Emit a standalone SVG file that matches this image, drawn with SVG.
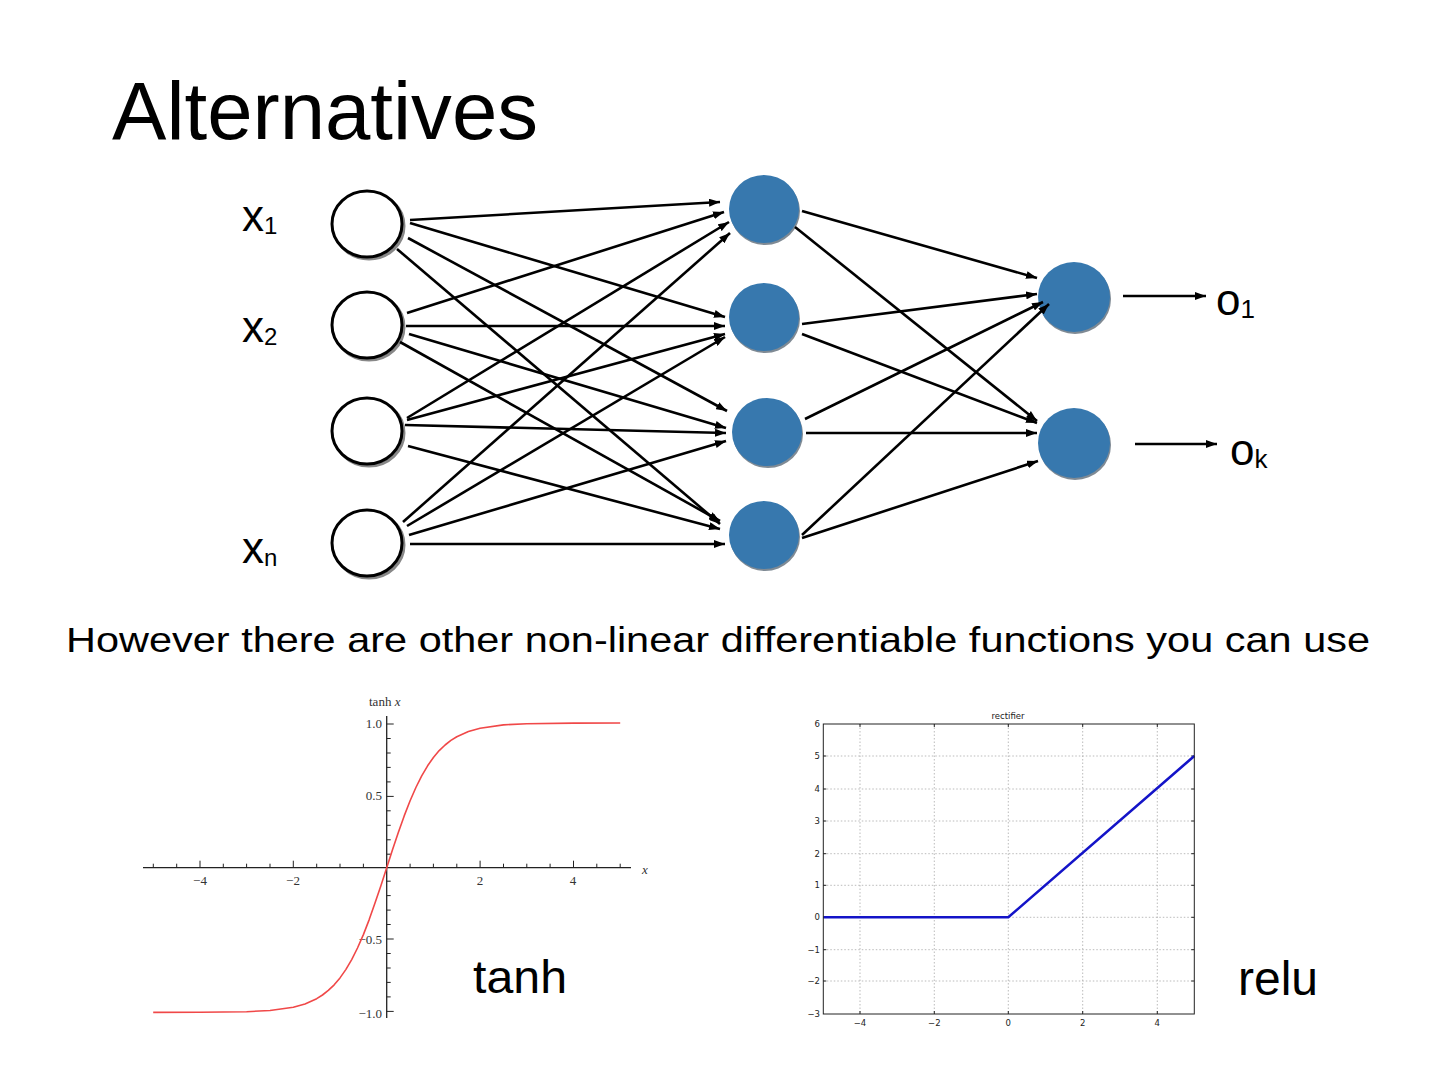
<svg xmlns="http://www.w3.org/2000/svg" width="1440" height="1080" viewBox="0 0 1440 1080">
<defs>
<marker id="ah" markerUnits="userSpaceOnUse" markerWidth="11" markerHeight="8" refX="11" refY="4" orient="auto">
<path d="M0,0 L11,4 L0,8 z" fill="#000"/>
</marker>
<style>
.t{font-family:"Liberation Sans",Arial,sans-serif;fill:#000}
.inp{fill:#fff;stroke:#000;stroke-width:3}
.sh{fill:none;stroke:#888;stroke-width:3}
.hid{fill:#3778ae}
.hsh{fill:#7f8a94}
.c line{stroke:#000;stroke-width:2.6;marker-end:url(#ah)}
.ax{stroke:#222;stroke-width:1.3;fill:none}
.tk{stroke:#222;stroke-width:1}
.sl{font-family:"Liberation Serif","Times New Roman",serif;font-size:13px;fill:#333}
.grid{stroke:#aaa;stroke-width:0.8;stroke-dasharray:1.5,2}
.rl{font-family:"DejaVu Sans",sans-serif;font-size:8.5px;fill:#222}
</style>
</defs>
<rect width="1440" height="1080" fill="#fff"/>

<text class="t" x="112" y="139" font-size="81" textLength="426" lengthAdjust="spacingAndGlyphs">Alternatives</text>

<g id="label-x1"><text class="t" x="242" y="231" font-size="44">x<tspan font-size="24" dy="3">1</tspan></text></g>
<g id="label-x2"><text class="t" x="242" y="342" font-size="44">x<tspan font-size="24" dy="3">2</tspan></text></g>
<g id="label-xn"><text class="t" x="242" y="563" font-size="44">x<tspan font-size="24" dy="3">n</tspan></text></g>

<g id="in1"><ellipse class="sh" cx="369" cy="226" rx="35" ry="33"/><ellipse class="inp" cx="367" cy="224" rx="35" ry="33"/></g>
<g id="in2"><ellipse class="sh" cx="369" cy="327" rx="35" ry="33"/><ellipse class="inp" cx="367" cy="325" rx="35" ry="33"/></g>
<g id="in3"><ellipse class="sh" cx="369" cy="433" rx="35" ry="33"/><ellipse class="inp" cx="367" cy="431" rx="35" ry="33"/></g>
<g id="in4"><ellipse class="sh" cx="369" cy="545" rx="35" ry="33"/><ellipse class="inp" cx="367" cy="543" rx="35" ry="33"/></g>

<g id="h1"><ellipse class="hsh" cx="765" cy="211" rx="35" ry="34"/><ellipse class="hid" cx="764" cy="209" rx="35" ry="34"/></g>
<g id="h2"><ellipse class="hsh" cx="765" cy="319" rx="35" ry="34"/><ellipse class="hid" cx="764" cy="317" rx="35" ry="34"/></g>
<g id="h3"><ellipse class="hsh" cx="768" cy="434" rx="35" ry="34"/><ellipse class="hid" cx="767" cy="432" rx="35" ry="34"/></g>
<g id="h4"><ellipse class="hsh" cx="765" cy="537" rx="35" ry="34"/><ellipse class="hid" cx="764" cy="535" rx="35" ry="34"/></g>

<g id="o1"><ellipse class="hsh" cx="1075" cy="299" rx="36" ry="35"/><ellipse class="hid" cx="1074" cy="297" rx="36" ry="35"/></g>
<g id="o2"><ellipse class="hsh" cx="1075" cy="445" rx="36" ry="35"/><ellipse class="hid" cx="1074" cy="443" rx="36" ry="35"/></g>

<g id="label-o1"><text class="t" x="1216" y="315" font-size="44">o<tspan font-size="26" dy="3">1</tspan></text></g>
<g id="label-ok"><text class="t" x="1230" y="465" font-size="44">o<tspan font-size="26" dy="3">k</tspan></text></g>

<g id="connectors" class="c">
<line x1="410" y1="220" x2="720" y2="202"/>
<line x1="410" y1="223" x2="725" y2="317"/>
<line x1="408" y1="238" x2="727" y2="411"/>
<line x1="397" y1="249" x2="720" y2="524"/>

<line x1="407" y1="313" x2="724" y2="212"/>
<line x1="406" y1="326" x2="725" y2="326"/>
<line x1="409" y1="334" x2="726" y2="428"/>
<line x1="400" y1="342" x2="720" y2="521"/>

<line x1="407" y1="418" x2="729" y2="222"/>
<line x1="407" y1="420" x2="725" y2="334"/>
<line x1="405" y1="425" x2="726" y2="433"/>
<line x1="408" y1="446" x2="720" y2="529"/>

<line x1="403" y1="522" x2="730" y2="233"/>
<line x1="407" y1="526" x2="725" y2="337"/>
<line x1="409" y1="535" x2="726" y2="441"/>
<line x1="410" y1="544" x2="725" y2="544"/>

<line x1="802" y1="211" x2="1037" y2="278"/>
<line x1="795" y1="227" x2="1037" y2="421"/>
<line x1="802" y1="324" x2="1037" y2="294"/>
<line x1="802" y1="334" x2="1037" y2="423"/>
<line x1="805" y1="419" x2="1043" y2="302"/>
<line x1="806" y1="433" x2="1037" y2="433"/>
<line x1="802" y1="535" x2="1049" y2="304"/>
<line x1="802" y1="538" x2="1038" y2="461"/>

<line x1="1123" y1="296" x2="1206" y2="296"/>
<line x1="1135" y1="444" x2="1217" y2="444"/>
</g>

<text class="t" x="66" y="652" font-size="35" textLength="1304" lengthAdjust="spacingAndGlyphs">However there are other non-linear differentiable functions you can use</text>

<!-- tanh plot -->
<g id="tanh-plot">
<line class="ax" x1="143" y1="867.7" x2="631" y2="867.7"/>
<line class="ax" x1="386.7" y1="716" x2="386.7" y2="1018"/>
<g class="tk">
<path d="M153.3,867.7v-4 M176.7,867.7v-4 M200,867.7v-7 M223.3,867.7v-4 M246.6,867.7v-4 M270,867.7v-4 M293.3,867.7v-7 M316.7,867.7v-4 M340,867.7v-4 M363.4,867.7v-4 M410.1,867.7v-4 M433.4,867.7v-4 M456.8,867.7v-4 M480.1,867.7v-7 M503.5,867.7v-4 M526.8,867.7v-4 M550.1,867.7v-4 M573.5,867.7v-7 M596.8,867.7v-4 M620.2,867.7v-4"/>
<path d="M386.7,724h7 M386.7,738.5h4 M386.7,753h4 M386.7,767.4h4 M386.7,781.9h4 M386.7,796.4h7 M386.7,810.8h4 M386.7,825.3h4 M386.7,839.8h4 M386.7,854.2h4 M386.7,881.2h4 M386.7,895.6h4 M386.7,910.1h4 M386.7,924.5h4 M386.7,939h7 M386.7,953.5h4 M386.7,968h4 M386.7,982.4h4 M386.7,996.9h4 M386.7,1011.4h7"/>
</g>
<text class="sl" x="369" y="706" font-size="12">tanh <tspan font-style="italic">x</tspan></text>
<text class="sl" x="382" y="728" text-anchor="end">1.0</text>
<text class="sl" x="382" y="800" text-anchor="end">0.5</text>
<text class="sl" x="382" y="944" text-anchor="end">−0.5</text>
<text class="sl" x="382" y="1018" text-anchor="end">−1.0</text>
<text class="sl" x="200" y="885" text-anchor="middle">−4</text>
<text class="sl" x="293" y="885" text-anchor="middle">−2</text>
<text class="sl" x="480" y="885" text-anchor="middle">2</text>
<text class="sl" x="573" y="885" text-anchor="middle">4</text>
<text class="sl" x="642" y="874" font-style="italic">x</text>
<polyline fill="none" stroke="#f04848" stroke-width="1.6" stroke-linejoin="round" points="153.2,1012.4 199.9,1012.3 246.6,1011.7 270,1010.5 293.3,1007.2 305,1003.9 316.7,998.7 322.5,995 328.3,990.4 334.2,984.8 340,977.9 345.8,969.6 351.7,959.6 357.5,948 363.4,934.6 369.2,919.6 375,903.1 380.9,885.7 386.7,867.7 392.5,849.7 398.4,832.3 404.2,815.9 410.1,800.8 415.9,787.5 421.7,775.8 427.6,765.8 433.4,757.5 439.2,750.6 445.1,745 450.9,740.4 456.8,736.7 468.4,731.5 480.1,728.2 503.5,724.9 526.8,723.7 573.5,723.1 620.2,723"/>
<text class="t" x="473" y="993" font-size="46" textLength="94" lengthAdjust="spacingAndGlyphs">tanh</text>
</g>

<!-- relu plot -->
<g id="relu-plot">
<g class="grid">
<path d="M860,724V1014 M934.3,724V1014 M1008.3,724V1014 M1082.7,724V1014 M1157.3,724V1014"/>
<path d="M823.3,756H1194.3 M823.3,789H1194.3 M823.3,821H1194.3 M823.3,853.7H1194.3 M823.3,885.3H1194.3 M823.3,917.3H1194.3 M823.3,949.7H1194.3 M823.3,981H1194.3"/>
</g>
<g class="tk">
<path d="M860,1014v-3 M934.3,1014v-3 M1008.3,1014v-3 M1082.7,1014v-3 M1157.3,1014v-3 M860,724v3 M934.3,724v3 M1008.3,724v3 M1082.7,724v3 M1157.3,724v3"/>
<path d="M823.3,756h3 M823.3,789h3 M823.3,821h3 M823.3,853.7h3 M823.3,885.3h3 M823.3,917.3h3 M823.3,949.7h3 M823.3,981h3 M1194.3,756h-3 M1194.3,789h-3 M1194.3,821h-3 M1194.3,853.7h-3 M1194.3,885.3h-3 M1194.3,917.3h-3 M1194.3,949.7h-3 M1194.3,981h-3"/>
</g>
<polyline fill="none" stroke="#1414c8" stroke-width="2.6" points="823.3,917.3 1008.3,917.3 1194.3,756"/>
<rect x="823.3" y="724" width="371" height="290" fill="none" stroke="#222" stroke-width="1"/>
<text class="rl" x="1008" y="719" text-anchor="middle" font-size="10">rectifier</text>
<text class="rl" x="820" y="727" text-anchor="end">6</text>
<text class="rl" x="820" y="759" text-anchor="end">5</text>
<text class="rl" x="820" y="792" text-anchor="end">4</text>
<text class="rl" x="820" y="824" text-anchor="end">3</text>
<text class="rl" x="820" y="857" text-anchor="end">2</text>
<text class="rl" x="820" y="888" text-anchor="end">1</text>
<text class="rl" x="820" y="920" text-anchor="end">0</text>
<text class="rl" x="820" y="953" text-anchor="end">−1</text>
<text class="rl" x="820" y="984" text-anchor="end">−2</text>
<text class="rl" x="820" y="1017" text-anchor="end">−3</text>
<text class="rl" x="860" y="1026" text-anchor="middle">−4</text>
<text class="rl" x="934.3" y="1026" text-anchor="middle">−2</text>
<text class="rl" x="1008.3" y="1026" text-anchor="middle">0</text>
<text class="rl" x="1082.7" y="1026" text-anchor="middle">2</text>
<text class="rl" x="1157.3" y="1026" text-anchor="middle">4</text>
<text class="t" x="1238" y="995" font-size="48">relu</text>
</g>
</svg>
